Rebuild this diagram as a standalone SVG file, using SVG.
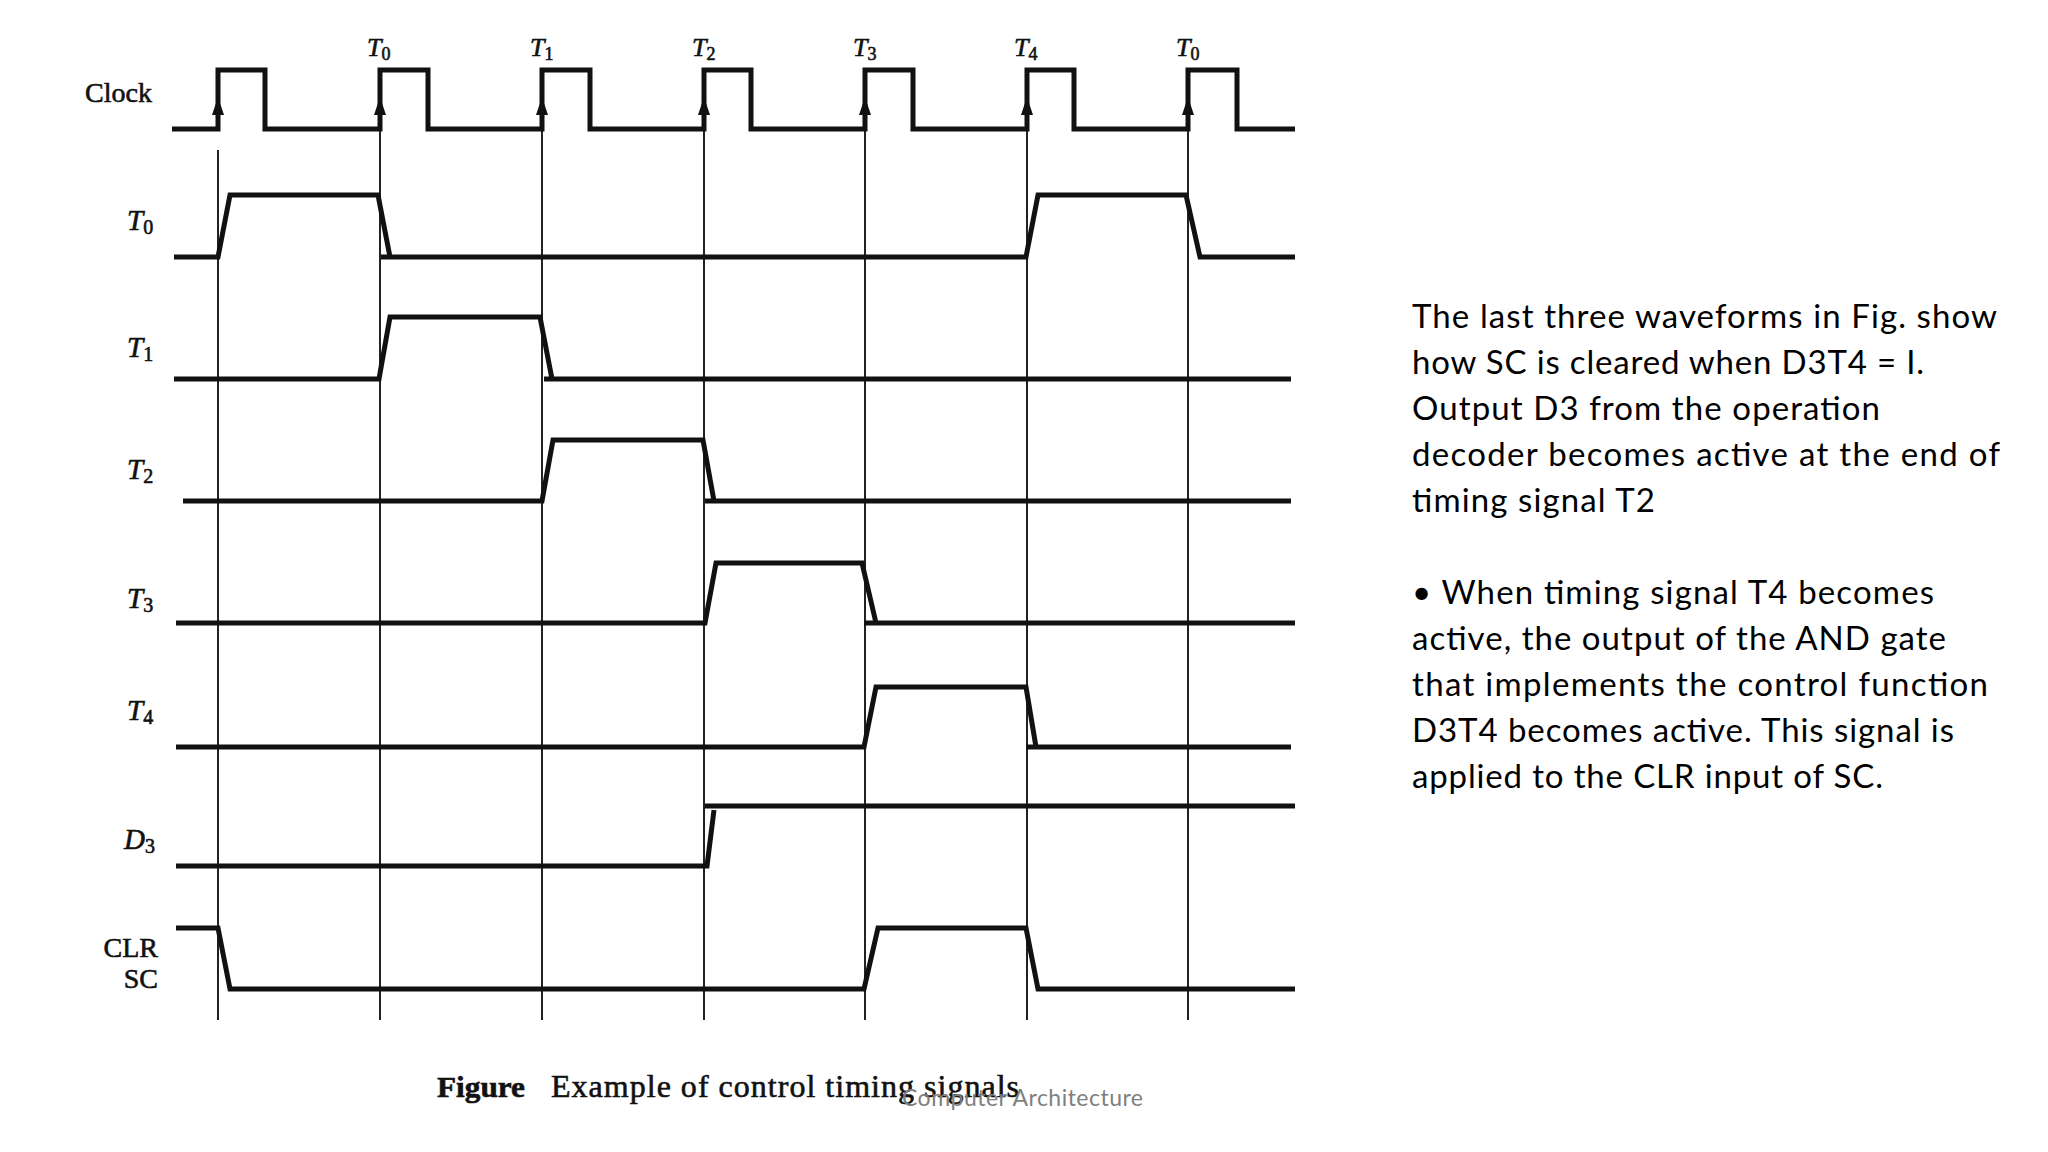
<svg xmlns="http://www.w3.org/2000/svg" width="2048" height="1152" viewBox="0 0 2048 1152">
<style>
.sig{fill:none;stroke:#111;stroke-width:5;stroke-linejoin:miter;stroke-linecap:butt}
.grid{stroke:#222;stroke-width:2}
.arr{fill:#111}
.lab{font-family:"Liberation Serif","DejaVu Serif",serif;fill:#111;stroke:#111;stroke-width:0.6}
.it{font-style:italic}
.sub{font-style:normal}
.desc{font-family:Lato,"Open Sans",sans-serif;font-size:33px;fill:#000}
</style>
<rect width="2048" height="1152" fill="#fff"/>
<g id="connectors">
<line class="grid" x1="218" y1="150" x2="218" y2="1020"/>
<line class="grid" x1="380" y1="129" x2="380" y2="1020"/>
<line class="grid" x1="542" y1="129" x2="542" y2="1020"/>
<line class="grid" x1="704" y1="129" x2="704" y2="1020"/>
<line class="grid" x1="865" y1="129" x2="865" y2="1020"/>
<line class="grid" x1="1027" y1="129" x2="1027" y2="1020"/>
<line class="grid" x1="1188" y1="129" x2="1188" y2="1020"/>
</g>
<g id="clock">
<text class="lab" x="85" y="102" font-size="28">Clock</text>
<path class="sig" d="M172,129 H218 V70 H265 V129 H380 V70 H428 V129 H542 V70 H590 V129 H704 V70 H751 V129 H865 V70 H913 V129 H1027 V70 H1074 V129 H1188 V70 H1237 V129 H1295"/>
<polygon class="arr" points="218,97 212,115 224,115"/>
<polygon class="arr" points="380,97 374,115 386,115"/>
<polygon class="arr" points="542,97 536,115 548,115"/>
<polygon class="arr" points="704,97 698,115 710,115"/>
<polygon class="arr" points="865,97 859,115 871,115"/>
<polygon class="arr" points="1027,97 1021,115 1033,115"/>
<polygon class="arr" points="1188,97 1182,115 1194,115"/>
<text class="lab it" x="367" y="56" font-size="26">T<tspan class="sub" font-size="18" dy="4">0</tspan></text>
<text class="lab it" x="530" y="56" font-size="26">T<tspan class="sub" font-size="18" dy="4">1</tspan></text>
<text class="lab it" x="692" y="56" font-size="26">T<tspan class="sub" font-size="18" dy="4">2</tspan></text>
<text class="lab it" x="853" y="56" font-size="26">T<tspan class="sub" font-size="18" dy="4">3</tspan></text>
<text class="lab it" x="1014" y="56" font-size="26">T<tspan class="sub" font-size="18" dy="4">4</tspan></text>
<text class="lab it" x="1176" y="56" font-size="26">T<tspan class="sub" font-size="18" dy="4">0</tspan></text>
</g>
<g id="t0">
<text class="lab it" x="127" y="230" font-size="29">T<tspan class="sub" font-size="20" dy="4">0</tspan></text>
<path class="sig" d="M174,257 H218 L230,195 H378 L390,257 M381,257 H1026 L1038,195 H1186 L1200,257 H1295"/>
</g>
<g id="t1">
<text class="lab it" x="127" y="357" font-size="29">T<tspan class="sub" font-size="20" dy="4">1</tspan></text>
<path class="sig" d="M174,379 H379 L390,317 H540 L552,379 M544,379 H1291"/>
</g>
<g id="t2">
<text class="lab it" x="127" y="479" font-size="29">T<tspan class="sub" font-size="20" dy="4">2</tspan></text>
<path class="sig" d="M183,501 H542 L553,440 H703 L714,501 M705,501 H1291"/>
</g>
<g id="t3">
<text class="lab it" x="127" y="608" font-size="29">T<tspan class="sub" font-size="20" dy="4">3</tspan></text>
<path class="sig" d="M176,623 H705 L716,563 H862 L876,623 M864,623 H1295"/>
</g>
<g id="t4">
<text class="lab it" x="127" y="720" font-size="29">T<tspan class="sub" font-size="20" dy="4">4</tspan></text>
<path class="sig" d="M176,747 H864 L876,687 H1026 L1036,747 M1026,747 H1291"/>
</g>
<g id="d3">
<text class="lab it" x="124" y="849" font-size="29">D<tspan class="sub" font-size="20" dy="4">3</tspan></text>
<path class="sig" d="M176,866 H707 L714,810 M705,806 H1295"/>
</g>
<g id="clrsc">
<text class="lab" x="158" y="957" font-size="28" text-anchor="end">CLR</text>
<text class="lab" x="158" y="988" font-size="28" text-anchor="end">SC</text>
<path class="sig" d="M176,928 H218 L230,989 H864 L878,928 H1026 L1038,989 H1295"/>
</g>
<g id="caption">
<text class="lab" x="437" y="1097" font-size="30" font-weight="bold" textLength="88" lengthAdjust="spacingAndGlyphs">Figure</text>
<text class="lab" x="551" y="1097" font-size="32" stroke-width="0.9" textLength="468" lengthAdjust="spacing">Example of control timing signals</text>
</g>
<g id="footer">
<text x="902" y="1106" font-family="Lato,'Open Sans',sans-serif" font-size="23" fill="#7f7f7f" textLength="241" lengthAdjust="spacing">Computer Architecture</text>
</g>
<g id="description">
<text class="desc" x="1412" y="328" textLength="585" lengthAdjust="spacing">The last three waveforms in Fig. show</text>
<text class="desc" x="1412" y="374" textLength="512" lengthAdjust="spacing">how SC is cleared when D3T4 = I.</text>
<text class="desc" x="1412" y="420" textLength="468" lengthAdjust="spacing">Output D3 from the operation</text>
<text class="desc" x="1412" y="466" textLength="588" lengthAdjust="spacing">decoder becomes active at the end of</text>
<text class="desc" x="1412" y="512" textLength="243" lengthAdjust="spacing">timing signal T2</text>
<text class="desc" x="1412" y="604" textLength="522" lengthAdjust="spacing">• When timing signal T4 becomes</text>
<text class="desc" x="1412" y="650" textLength="534" lengthAdjust="spacing">active, the output of the AND gate</text>
<text class="desc" x="1412" y="696" textLength="576" lengthAdjust="spacing">that implements the control function</text>
<text class="desc" x="1412" y="742" textLength="542" lengthAdjust="spacing">D3T4 becomes active. This signal is</text>
<text class="desc" x="1412" y="788" textLength="471" lengthAdjust="spacing">applied to the CLR input of SC.</text>
</g>
</svg>
